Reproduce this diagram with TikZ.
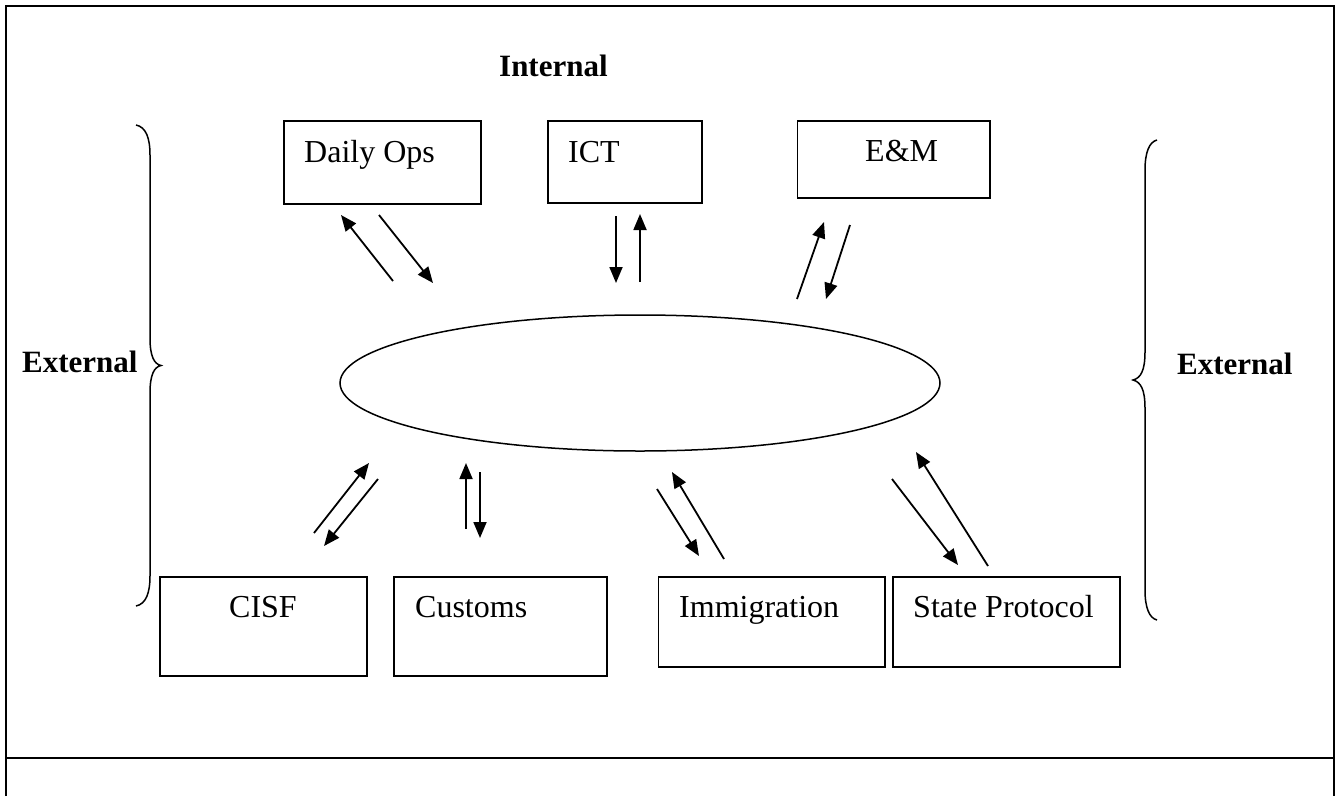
\documentclass[tikz,border=0pt]{standalone}
\usepackage{fontspec}
\setmainfont{Liberation Serif}
\usetikzlibrary{shapes.geometric,arrows.meta}
\begin{document}
\begin{tikzpicture}[x=1pt,y=-1pt,
  box/.style={draw, rectangle, line width=1.6pt, inner sep=0pt, anchor=north west},
  txt/.style={font=\fontsize{32}{38}\selectfont, inner sep=0pt, anchor=base west},
  lab/.style={font=\fontsize{31}{37}\selectfont\bfseries, inner sep=0pt, anchor=base west},
  arr/.style={line width=1.8pt, -{Triangle[length=16pt,width=13pt]}},
  frameline/.style={line width=2pt},
  bracestyle/.style={line width=1.5pt}]
\useasboundingbox (0,0) rectangle (1342,796);

% frame
\draw[frameline] (6,796) -- (6,6) -- (1334,6) -- (1334,796);
\draw[frameline] (6,758) -- (1334,758);

% headings
\node[lab] (internal) at (499,76) {Internal};
\node[lab] (extL) at (22,372) {External};
\node[lab] (extR) at (1177,374) {External};

% braces
\draw[bracestyle] (136,125) .. controls (146,127) and (150,138) .. (150,155)
  -- (150,338) .. controls (150,356) and (154,364) .. (161,365.5)
  .. controls (154,367) and (150,375) .. (150,393)
  -- (150,576) .. controls (150,593) and (146,604) .. (136,606);
\draw[bracestyle] (1157,140) .. controls (1149,142) and (1145,153) .. (1145,170)
  -- (1145,352) .. controls (1145,370) and (1141,378) .. (1133,380)
  .. controls (1141,382) and (1145,390) .. (1145,408)
  -- (1145,590) .. controls (1145,607) and (1149,618) .. (1157,620);

% top boxes
\node[box, minimum width=197pt, minimum height=83pt] (dops) at (283,120) {};
\node[box, minimum width=154pt, minimum height=82pt] (ict) at (547,120) {};
\node[box, minimum width=192.5pt, minimum height=77pt] (em) at (796.5,120) {};
\node[txt] (dopst) at (304,162) {Daily Ops};
\node[txt] (ictt) at (568,162) {ICT};
\node[txt] (emt) at (865,161) {E\&M};

% bottom boxes
\node[box, minimum width=207pt, minimum height=99pt] (cisf) at (159,576) {};
\node[box, minimum width=213pt, minimum height=99pt] (cust) at (393,576) {};
\node[box, minimum width=226.5pt, minimum height=90pt] (immi) at (657.5,576) {};
\node[box, minimum width=227pt, minimum height=90pt] (state) at (892,576) {};
\node[txt, anchor=base] (cisft) at (263,617) {CISF};
\node[txt] (custt) at (415,617) {Customs};
\node[txt] (immit) at (679,617) {Immigration};
\node[txt] (statet) at (913,617) {State Protocol};

% central ellipse
\node[draw, ellipse, line width=1.5pt, minimum width=600pt, minimum height=136pt, inner sep=0pt] (hub) at (640,383) {};

% arrow end points
\coordinate (a1s) at (393,281); \coordinate (a1e) at (341,215);
\coordinate (a2s) at (379,215); \coordinate (a2e) at (433,283);
\coordinate (a3s) at (616,216); \coordinate (a3e) at (616,283);
\coordinate (a4s) at (640,282); \coordinate (a4e) at (640,214);
\coordinate (a5s) at (797,299); \coordinate (a5e) at (824,222);
\coordinate (a6s) at (850,225); \coordinate (a6e) at (826,299);
\coordinate (a7s) at (314,533); \coordinate (a7e) at (369,463);
\coordinate (a8s) at (378,479); \coordinate (a8e) at (324,546);
\coordinate (a9s) at (466,529); \coordinate (a9e) at (466,463);
\coordinate (a10s) at (480,472); \coordinate (a10e) at (480,538);
\coordinate (a11s) at (657,489); \coordinate (a11e) at (699,556);
\coordinate (a12s) at (724,559); \coordinate (a12e) at (672,472);
\coordinate (a13s) at (892,479); \coordinate (a13e) at (958,565);
\coordinate (a14s) at (988,566); \coordinate (a14e) at (916,452);

\foreach \i in {1,...,14} {\draw[arr] (a\i s) -- (a\i e);}
\end{tikzpicture}
\end{document}
